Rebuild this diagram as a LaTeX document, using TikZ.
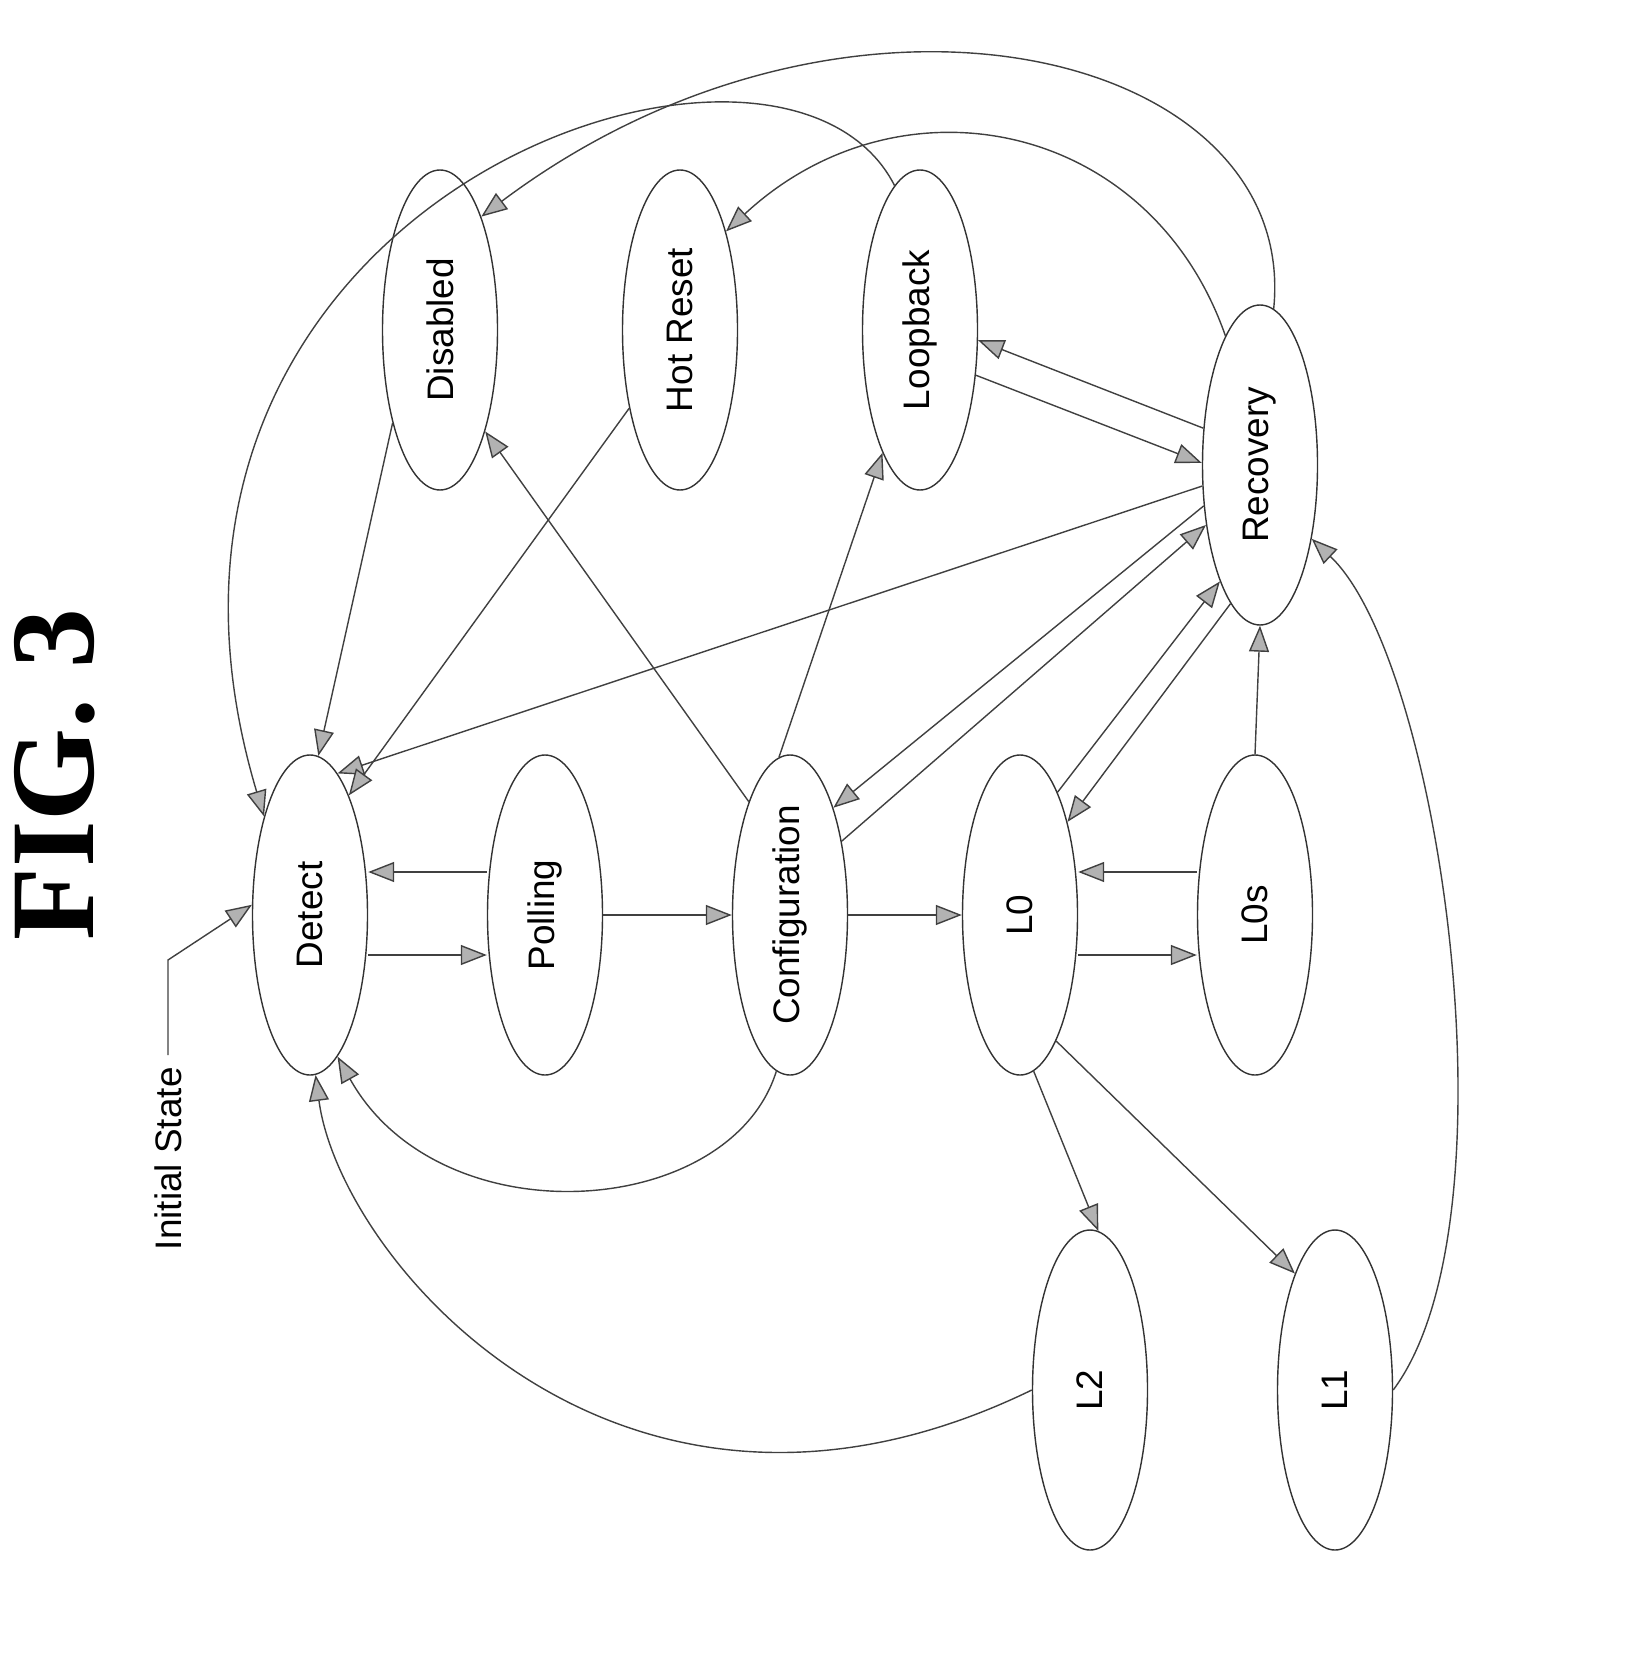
\documentclass[tikz,border=0pt]{standalone}
\usepackage{fontspec}
\setmainfont{Liberation Sans}
\newfontfamily\figfont{Liberation Serif}
\usetikzlibrary{shapes.geometric}
\usetikzlibrary{arrows.meta}
\tikzstyle{every node}=[font=\fontsize{10.5}{13}\selectfont]
\tikzstyle{st}=[ellipse, draw=black!80, thin, minimum width=1.15cm, minimum height=3.2cm, inner sep=0pt]
\tikzstyle{link}=[-{Triangle[length=2.6mm, width=2mm, fill=gray!60]}, draw=black!75, thin]

\begin{document}
\begin{tikzpicture}
    \useasboundingbox (0,0) rectangle (16.42,-16.66);
    \node[rotate=90, font=\figfont\bfseries\fontsize{34}{40}\selectfont] (fig) at (0.55,-7.75) {FIG. 3};

    \node[st] (detect)  at (3.10,-9.15)  {\rotatebox{90}{Detect}};
    \node[st] (polling) at (5.45,-9.15)  {\rotatebox{90}{Polling}};
    \node[st] (config)  at (7.90,-9.15)  {\rotatebox{90}{Configuration}};
    \node[st] (lzero)   at (10.20,-9.15) {\rotatebox{90}{L0}};
    \node[st] (lzeros)  at (12.55,-9.15) {\rotatebox{90}{L0s}};
    \node[st] (disabled) at (4.40,-3.30) {\rotatebox{90}{Disabled}};
    \node[st] (hotreset) at (6.80,-3.30) {\rotatebox{90}{Hot Reset}};
    \node[st] (loopback) at (9.20,-3.30) {\rotatebox{90}{Loopback}};
    \node[st] (recovery) at (12.60,-4.65) {\rotatebox{90}{Recovery}};
    \node[st] (ltwo)    at (10.90,-13.90) {\rotatebox{90}{L2}};
    \node[st] (lone)    at (13.35,-13.90) {\rotatebox{90}{L1}};
    \node[rotate=90, anchor=east] (init) at (1.68,-10.55) {Initial State};

    \draw[link] (init.east) -- ++(0,0.95) -- (detect.170);

    \draw[link] ([yshift=-4mm]detect.east) -- ([yshift=-4mm]polling.west);
    \draw[link] ([yshift=4.3mm]polling.west) -- ([yshift=4.3mm]detect.east);
    \draw[link] (polling.east) -- (config.west);
    \draw[link] (config.east) -- (lzero.west);
    \draw[link] ([yshift=-4mm]lzero.east) -- ([yshift=-4mm]lzeros.west);
    \draw[link] ([yshift=4.3mm]lzeros.west) -- ([yshift=4.3mm]lzero.east);
    \draw[link] (lzeros.north) -- (recovery.south);

    \draw[link] (config.55) -- (recovery.228);
    \draw[link] (recovery.216) -- (config.68);
    \draw[link] (lzero.73) -- (recovery.251);
    \draw[link] (recovery.258) -- (lzero.63);
    \draw[link] (recovery.200) -- (detect.79);
    \draw[link] (config.94) -- (loopback.253);
    \draw[link] (config.110) -- (disabled.294);
    \draw[link] (hotreset.237) -- (detect.72);
    \draw[link] (disabled.243) -- (detect.87);
    \draw[link] (loopback.-39) -- (recovery.178);
    \draw[link] (recovery.147) -- (loopback.350);
    \draw[link] (lzero.275) -- (ltwo.87);
    \draw[link] (lzero.286) -- (lone.109);

    \draw[link] (config.265) .. controls (7.3,-12.2) and (4.4,-12.4) .. (detect.281);
    \draw[link] (ltwo.180) .. controls (6.2,-15.9) and (3.4,-12.6) .. (detect.272);
    \draw[link] (lone.0) .. controls (15.2,-12.2) and (14.4,-6.6) .. (recovery.-55);
    \draw[link] (recovery.105) .. controls (11.5,-1.2) and (9.0,-0.7) .. (hotreset.65);
    \draw[link] (recovery.85) .. controls (13.0,-0.5) and (8.5,0.6) .. (disabled.70);
    \draw[link] (loopback.100) .. controls (7.8,0.4) and (0.8,-2.0) .. (detect.115);
\end{tikzpicture}
\end{document}
